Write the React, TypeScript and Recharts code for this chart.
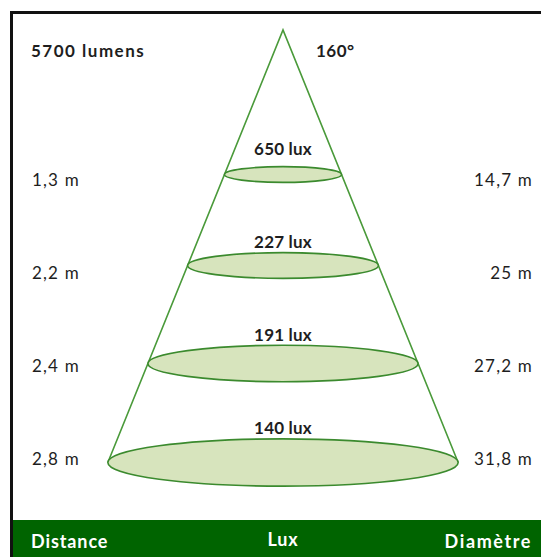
import React from 'react';
import { ComposedChart, Scatter, XAxis, YAxis } from 'recharts';

// ---- data ----
const distanceLabels = ['1,3 m', '2,2 m', '2,4 m', '2,8 m'];
const diameterLabels = ['14,7 m', '25 m', '27,2 m', '31,8 m'];
const luxValues = [650, 227, 191, 140];
// schematic depth of each light ring below the cone apex
const ringDepths = [1.445, 2.355, 3.335, 4.325];
// schematic cone half-width per unit of depth
const coneSpread = 0.405;
const headerTexts = ['5700 lumens', '160°'];
const footerTexts = ['Distance', 'Lux', 'Diamètre'];

// ---- layout ----
const W = 541;
const H = 557;
const APEX_X = 283;
const APEX_Y = 30;
const PX = 100; // pixels per schematic unit
const depthMax = ringDepths[ringDepths.length - 1];
const xMax = depthMax * coneSpread;
const margin = {
  top: APEX_Y,
  bottom: H - (APEX_Y + depthMax * PX),
  left: APEX_X - xMax * PX,
  right: W - APEX_X - xMax * PX,
};
const FONT = 'Lato, "Open Sans", sans-serif';
const TEXT = '#1e1e1e';
const ROW0 = 186;
const ROW_STEP = 93;

const ringData = ringDepths.map((d, i) => ({
  x: 0,
  y: d,
  half: d * coneSpread,
  lux: luxValues[i],
  row: i,
}));
const coneData = [
  { x: -xMax, y: depthMax },
  { x: 0, y: 0 },
  { x: xMax, y: depthMax },
];

const RingShape = (props: any) => {
  const { cx, cy, payload } = props;
  const rx = payload.half * PX;
  const ry = rx * 0.135;
  const base = ROW0 + payload.row * ROW_STEP;
  return (
    <g>
      <ellipse cx={cx} cy={cy} rx={rx} ry={ry} fill="#d7e4bd" stroke="#3b8a2e" strokeWidth={1.6} />
      <text x={cx} y={base - 31} textAnchor="middle" fontFamily={FONT} fontWeight={700} fontSize={17} letterSpacing={0.2} fill={TEXT}>
        {`${payload.lux} lux`}
      </text>
      <text x={32} y={base} textAnchor="start" fontFamily={FONT} fontSize={17} letterSpacing={1.2} fill={TEXT}>
        {distanceLabels[payload.row]}
      </text>
      <text x={533} y={base} textAnchor="end" fontFamily={FONT} fontSize={17} letterSpacing={1.2} fill={TEXT}>
        {diameterLabels[payload.row]}
      </text>
    </g>
  );
};

export default function App() {
  return (
    <div style={{ position: 'absolute', left: 0, top: 0, width: W, height: H, overflow: 'hidden', background: '#fff', fontFamily: FONT }}>
      <div style={{ position: 'absolute', left: 10, top: 11, width: W, height: H, borderLeft: '3px solid #111', borderTop: '3px solid #111' }} />
      <div style={{ position: 'absolute', left: 13, top: 520, width: W - 13, height: H - 520, background: '#006400' }} />
      <div style={{ position: 'absolute', left: 31, top: 40, fontSize: 17, letterSpacing: 1.5, fontWeight: 700, color: TEXT }}>{headerTexts[0]}</div>
      <div style={{ position: 'absolute', left: 316, top: 40, fontSize: 17, letterSpacing: 0.5, fontWeight: 700, color: TEXT }}>{headerTexts[1]}</div>
      <div style={{ position: 'absolute', left: 31, top: 530, fontSize: 18, letterSpacing: 0.9, fontWeight: 700, color: '#fff' }}>{footerTexts[0]}</div>
      <div style={{ position: 'absolute', left: 0, width: 566, textAlign: 'center', top: 528, fontSize: 18, letterSpacing: 0.9, fontWeight: 700, color: '#fff' }}>{footerTexts[1]}</div>
      <div style={{ position: 'absolute', right: 9, top: 530, fontSize: 18, letterSpacing: 1.6, fontWeight: 700, color: '#fff' }}>{footerTexts[2]}</div>
      <div style={{ position: 'absolute', left: 0, top: 0 }}>
        <ComposedChart width={W} height={H} margin={margin}>
          <XAxis type="number" dataKey="x" domain={[-xMax, xMax]} hide />
          <YAxis type="number" dataKey="y" domain={[0, depthMax]} reversed hide />
          <Scatter
            data={coneData}
            dataKey="y"
            line={{ stroke: '#4a9a3a', strokeWidth: 1.6 }}
            shape={() => <g />}
            isAnimationActive={false}
          />
          <Scatter data={ringData} dataKey="y" shape={RingShape} isAnimationActive={false} />
        </ComposedChart>
      </div>
    </div>
  );
}
